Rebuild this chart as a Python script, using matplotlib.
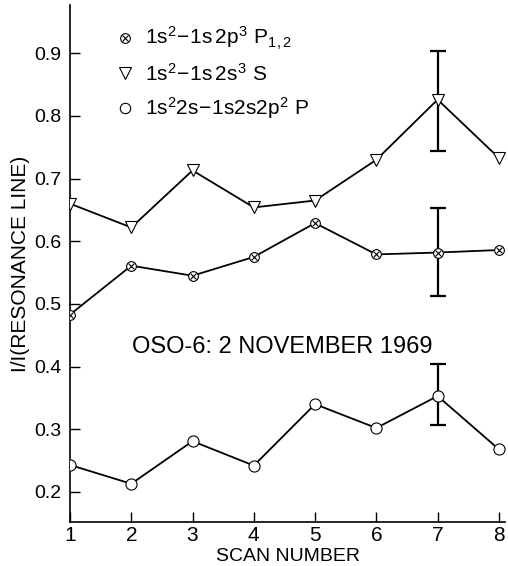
import matplotlib
matplotlib.use("Agg")
import matplotlib.pyplot as plt
from matplotlib.lines import Line2D

plt.rcParams["font.family"] = ["Liberation Sans", "DejaVu Sans"]
plt.rcParams["mathtext.fontset"] = "custom"
plt.rcParams["mathtext.rm"] = "Liberation Sans"

scan = [1, 2, 3, 4, 5, 6, 7, 8]
p_triplet = [0.483, 0.561, 0.545, 0.575, 0.629, 0.579, 0.582, 0.586]
s_triplet = [0.660, 0.622, 0.713, 0.654, 0.665, 0.730, 0.826, 0.733]
p_doublet = [0.243, 0.213, 0.281, 0.242, 0.340, 0.302, 0.353, 0.268]
# error bars only at scan 7: (lower, upper)
err_scan = 7
p_triplet_err = (0.070, 0.071)
s_triplet_err = (0.082, 0.078)
p_doublet_err = (0.047, 0.051)

labels = [r"$\mathregular{1s^2\!-\!1s\,2p^3\ P_{1,2}}$",
          r"$\mathregular{1s^2\!-\!1s\,2s^3\ S}$",
          r"$\mathregular{1s^2 2s\!-\!1s2s2p^2\ P}$"]

fig = plt.figure(figsize=(5.08, 5.66), dpi=100)
ax = fig.add_axes([70 / 508, 44 / 566, 435 / 508, 517 / 566])

lk = dict(color="black", lw=1.3)
ms = 7.5
ax.plot(scan, s_triplet, marker="v", ms=8.5, mfc="white", mec="black", mew=0.8, **lk, zorder=3)
ax.plot(scan, p_triplet, marker="o", ms=ms - 0.5, mfc="white", mec="black", mew=0.8, **lk, zorder=3)
ax.plot(scan, p_triplet, ls="none", marker="x", ms=4.2, mec="black", mew=0.8, zorder=4)
ax.plot(scan, p_doublet, marker="o", ms=ms + 0.5, mfc="white", mec="black", mew=0.8, **lk, zorder=3)

i = scan.index(err_scan)
for vals, err in [(s_triplet, s_triplet_err), (p_triplet, p_triplet_err), (p_doublet, p_doublet_err)]:
    ax.errorbar(scan[i], vals[i], yerr=[[err[0]], [err[1]]], fmt="none",
                ecolor="black", elinewidth=1.6, capsize=6, capthick=1.6, zorder=2)

ax.set_xlim(1, 8.1)
ax.set_ylim(0.152, 0.977)
ax.set_xticks(scan)
ax.set_yticks([0.2, 0.3, 0.4, 0.5, 0.6, 0.7, 0.8, 0.9])
ax.set_yticklabels(["0.2", "0.3", "0.4", "0.5", "0.6", "0.7", "0.8", "0.9"])
ax.tick_params(axis="both", direction="in", length=7, width=1, color="black")
ax.tick_params(axis="y", labelsize=14, pad=6)
ax.tick_params(axis="x", labelsize=15, pad=3)
for side in ["top", "right"]:
    ax.spines[side].set_visible(False)
for side in ["left", "bottom"]:
    ax.spines[side].set_linewidth(1.2)

ax.set_xlabel("SCAN NUMBER", fontsize=14, labelpad=2)
ax.set_ylabel("I/I(RESONANCE LINE)", fontsize=15, labelpad=3)

ax.text(4.46, 0.432, "OSO-6: 2 NOVEMBER 1969", fontsize=17, ha="center", va="center")

h_p = (Line2D([], [], ls="none", marker="o", ms=ms - 0.5, mfc="white", mec="black", mew=0.8),
       Line2D([], [], ls="none", marker="x", ms=4.2, mec="black", mew=0.8))
h_s = Line2D([], [], ls="none", marker="v", ms=8.5, mfc="white", mec="black", mew=0.8)
h_d = Line2D([], [], ls="none", marker="o", ms=ms, mfc="white", mec="black", mew=0.8)
ax.legend([h_p, h_s, h_d], labels, loc="upper left", bbox_to_anchor=(0.06, 0.997),
          frameon=False, fontsize=15, handlelength=1.0, handletextpad=0.45,
          labelspacing=0.5)

fig.savefig("out.png", dpi=100)
